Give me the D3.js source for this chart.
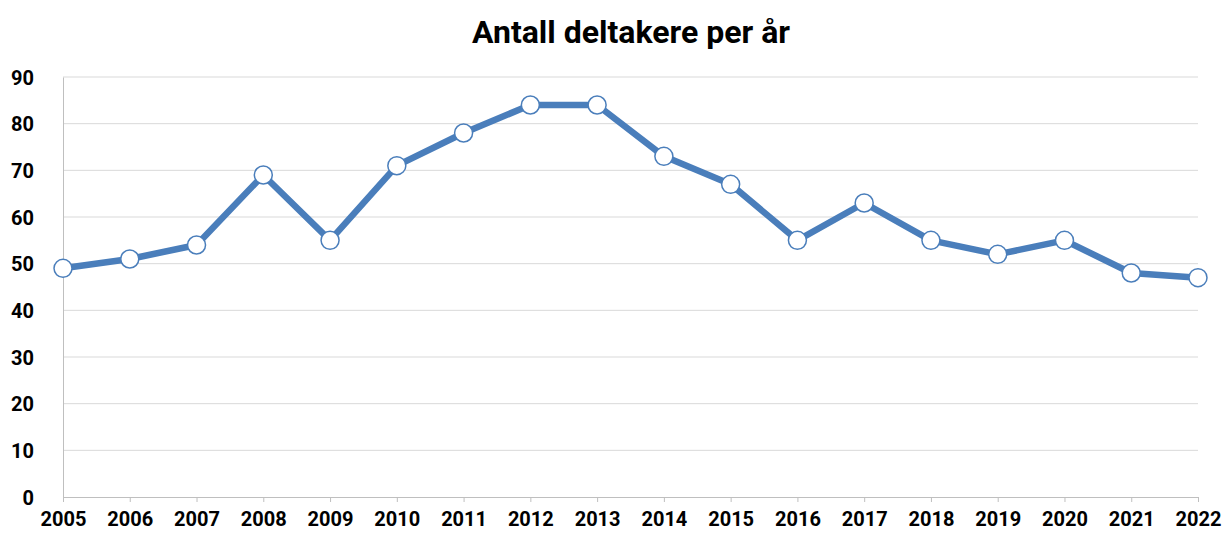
<!DOCTYPE html>
<html><head><meta charset="utf-8">
<script src="https://cdn.jsdelivr.net/npm/d3@7"></script>
<style>body{margin:0;background:#fff}svg{display:block}text{font-family:"Roboto",sans-serif;font-weight:bold;fill:#000}</style>
</head><body><svg id="c" width="1229" height="536"></svg>
<script>
const years = ["2005","2006","2007","2008","2009","2010","2011","2012","2013","2014","2015","2016","2017","2018","2019","2020","2021","2022"];
const values = [49,51,54,69,55,71,78,84,84,73,67,55,63,55,52,55,48,47];
const yTicks = [0,10,20,30,40,50,60,70,80,90];
const title = "Antall deltakere per år";

const svg = d3.select("#c");
const m = {l:63, r:1198, t:77, b:497};
const x = d3.scalePoint().domain(years).range([m.l, m.r]);
const y = d3.scaleLinear().domain([0,90]).range([m.b, m.t]);

svg.append("g").selectAll("line").data(yTicks.filter(d=>d>0)).join("line")
  .attr("x1", m.l).attr("x2", m.r).attr("y1", d=>y(d)).attr("y2", d=>y(d))
  .attr("stroke","#d9d9d9").attr("stroke-width",1);

const yAxis = svg.append("g").attr("transform",`translate(${m.l},0)`)
  .call(d3.axisLeft(y).tickValues(yTicks).tickSize(0).tickPadding(29));
yAxis.select(".domain").attr("stroke","#bfbfbf");
yAxis.selectAll("text").style("font-size","20px").attr("dy","0.35em");

const xAxis = svg.append("g").attr("transform",`translate(0,${m.b})`)
  .call(d3.axisBottom(x).tickSize(5).tickPadding(10).tickSizeOuter(0));
xAxis.select(".domain").attr("stroke","#bfbfbf");
xAxis.selectAll(".tick line").attr("stroke","#bfbfbf");
xAxis.selectAll("text").style("font-size","20px").attr("dy","0.71em");

svg.append("path").datum(values)
  .attr("d", d3.line().x((d,i)=>x(years[i])).y(d=>y(d)))
  .attr("fill","none").attr("stroke","#4a7ebb").attr("stroke-width",6.5).attr("stroke-linejoin","round");

svg.append("g").selectAll("circle").data(values).join("circle")
  .attr("cx",(d,i)=>x(years[i])).attr("cy",d=>y(d)).attr("r",9)
  .attr("fill","#fff").attr("stroke","#4a7ebb").attr("stroke-width",1.5);

svg.append("text").attr("x",631).attr("y",43).attr("text-anchor","middle")
  .style("font-size","32px").text(title);
</script></body></html>
